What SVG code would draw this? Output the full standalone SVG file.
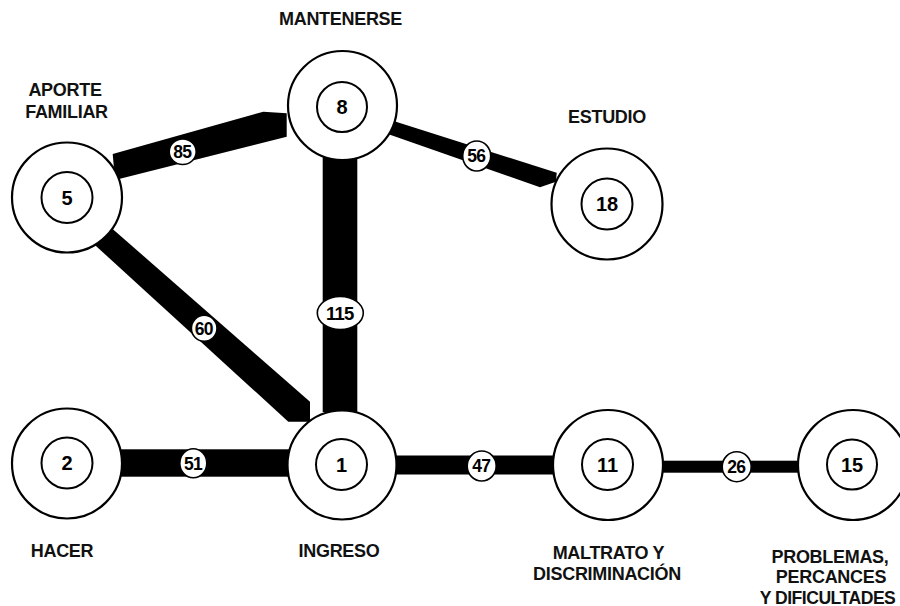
<svg xmlns="http://www.w3.org/2000/svg" width="900" height="606" viewBox="0 0 900 606">
<style>
  .band { fill: #000; stroke: none; }
  .outer { fill: #fff; stroke: #000; stroke-width: 2.2; }
  .inner { fill: #fff; stroke: #000; stroke-width: 2; }
  .num { font-family: "Liberation Sans", Arial, sans-serif; font-weight: bold; font-size: 20px; text-anchor: middle; fill: #000; }
  .lbl { fill: #fff; stroke: #000; stroke-width: 1.6; }
  .lbltxt { font-family: "Liberation Sans", Arial, sans-serif; font-weight: bold; font-size: 17.5px; text-anchor: middle; fill: #000; letter-spacing: -0.8px; }
  .name { font-family: "Liberation Sans", Arial, sans-serif; font-weight: bold; font-size: 18px; text-anchor: middle; fill: #111; letter-spacing: -0.3px; }
</style>
<rect width="900" height="606" fill="#fff"/>
<g id="connectors">
  <g id="e-5-8">
    <polygon class="band" points="112.7,154 263.3,111.7 286.7,113.3 286.7,136.7 115,180"/>
    <ellipse class="lbl" cx="182.7" cy="151.7" rx="13.5" ry="12.8"/>
    <text class="lbltxt" x="182.3" y="158">85</text>
  </g>
  <g id="e-8-18">
    <polygon class="band" points="370,113.5 556.7,172.7 556,181.7 540,187.3 370,127.8"/>
    <ellipse class="lbl" cx="476.7" cy="156" rx="14" ry="15"/>
    <text class="lbltxt" x="476.3" y="162.3">56</text>
  </g>
  <g id="e-8-1">
    <rect class="band" x="322.7" y="130" width="34.6" height="282"/>
    <ellipse class="lbl" cx="340.3" cy="313" rx="23" ry="16.5"/>
    <text class="lbltxt" x="339.8" y="319.5" style="font-size:18.5px">115</text>
  </g>
  <g id="e-5-1">
    <polygon class="band" points="50,204 80,200.4 310,401.7 310,421.7 288.3,421.7"/>
    <ellipse class="lbl" cx="204.2" cy="328.3" rx="12.8" ry="13"/>
    <text class="lbltxt" x="203.8" y="334.6">60</text>
  </g>
  <g id="e-2-1">
    <rect class="band" x="67" y="449.3" width="275" height="27.4"/>
    <ellipse class="lbl" cx="193.3" cy="463.3" rx="13.5" ry="14.5"/>
    <text class="lbltxt" x="192.9" y="469.6">51</text>
  </g>
  <g id="e-1-11">
    <rect class="band" x="342" y="455.5" width="266" height="19"/>
    <ellipse class="lbl" cx="481.7" cy="466" rx="14.5" ry="15"/>
    <text class="lbltxt" x="481.3" y="472.3">47</text>
  </g>
  <g id="e-11-15">
    <rect class="band" x="608" y="460.7" width="244" height="12"/>
    <ellipse class="lbl" cx="736.7" cy="466.7" rx="14.5" ry="15"/>
    <text class="lbltxt" x="736.3" y="473">26</text>
  </g>
</g>
<g id="node-8">
  <circle class="outer" cx="342.5" cy="105.5" r="54.5"/>
  <circle class="inner" cx="342" cy="107" r="25"/>
  <text class="num" x="342" y="114">8</text>
  <text class="name" x="340.5" y="25">MANTENERSE</text>
</g>
<g id="node-5">
  <circle class="outer" cx="67" cy="197.5" r="55"/>
  <circle class="inner" cx="67" cy="197.5" r="25.5"/>
  <text class="num" x="67" y="204.5">5</text>
  <text class="name" x="65" y="96">APORTE</text>
  <text class="name" x="66.5" y="118">FAMILIAR</text>
</g>
<g id="node-18">
  <circle class="outer" cx="607" cy="204" r="55.5"/>
  <circle class="inner" cx="607" cy="204" r="25.5"/>
  <text class="num" x="607" y="211">18</text>
  <text class="name" x="607" y="123">ESTUDIO</text>
</g>
<g id="node-2">
  <circle class="outer" cx="67" cy="463.5" r="55"/>
  <circle class="inner" cx="67" cy="463" r="25.5"/>
  <text class="num" x="67" y="470">2</text>
  <text class="name" x="62" y="557">HACER</text>
</g>
<g id="node-1">
  <circle class="outer" cx="342" cy="465" r="54.5"/>
  <circle class="inner" cx="341.5" cy="464.5" r="25.5"/>
  <text class="num" x="341.5" y="471.5">1</text>
  <text class="name" x="339" y="557">INGRESO</text>
</g>
<g id="node-11">
  <circle class="outer" cx="608" cy="465" r="55"/>
  <circle class="inner" cx="607.5" cy="464.5" r="25.5"/>
  <text class="num" x="607.5" y="471.5">11</text>
  <text class="name" x="608.5" y="559">MALTRATO Y</text>
  <text class="name" x="607" y="579.5">DISCRIMINACIÓN</text>
</g>
<g id="node-15">
  <circle class="outer" cx="853" cy="465" r="55"/>
  <circle class="inner" cx="852" cy="464.5" r="25"/>
  <text class="num" x="852" y="471.5">15</text>
  <text class="name" x="830" y="562.7">PROBLEMAS,</text>
  <text class="name" x="831" y="583.3">PERCANCES</text>
  <text class="name" x="827.5" y="603.5" style="font-size:17.6px;letter-spacing:-0.5px">Y DIFICULTADES</text>
</g>
</svg>
